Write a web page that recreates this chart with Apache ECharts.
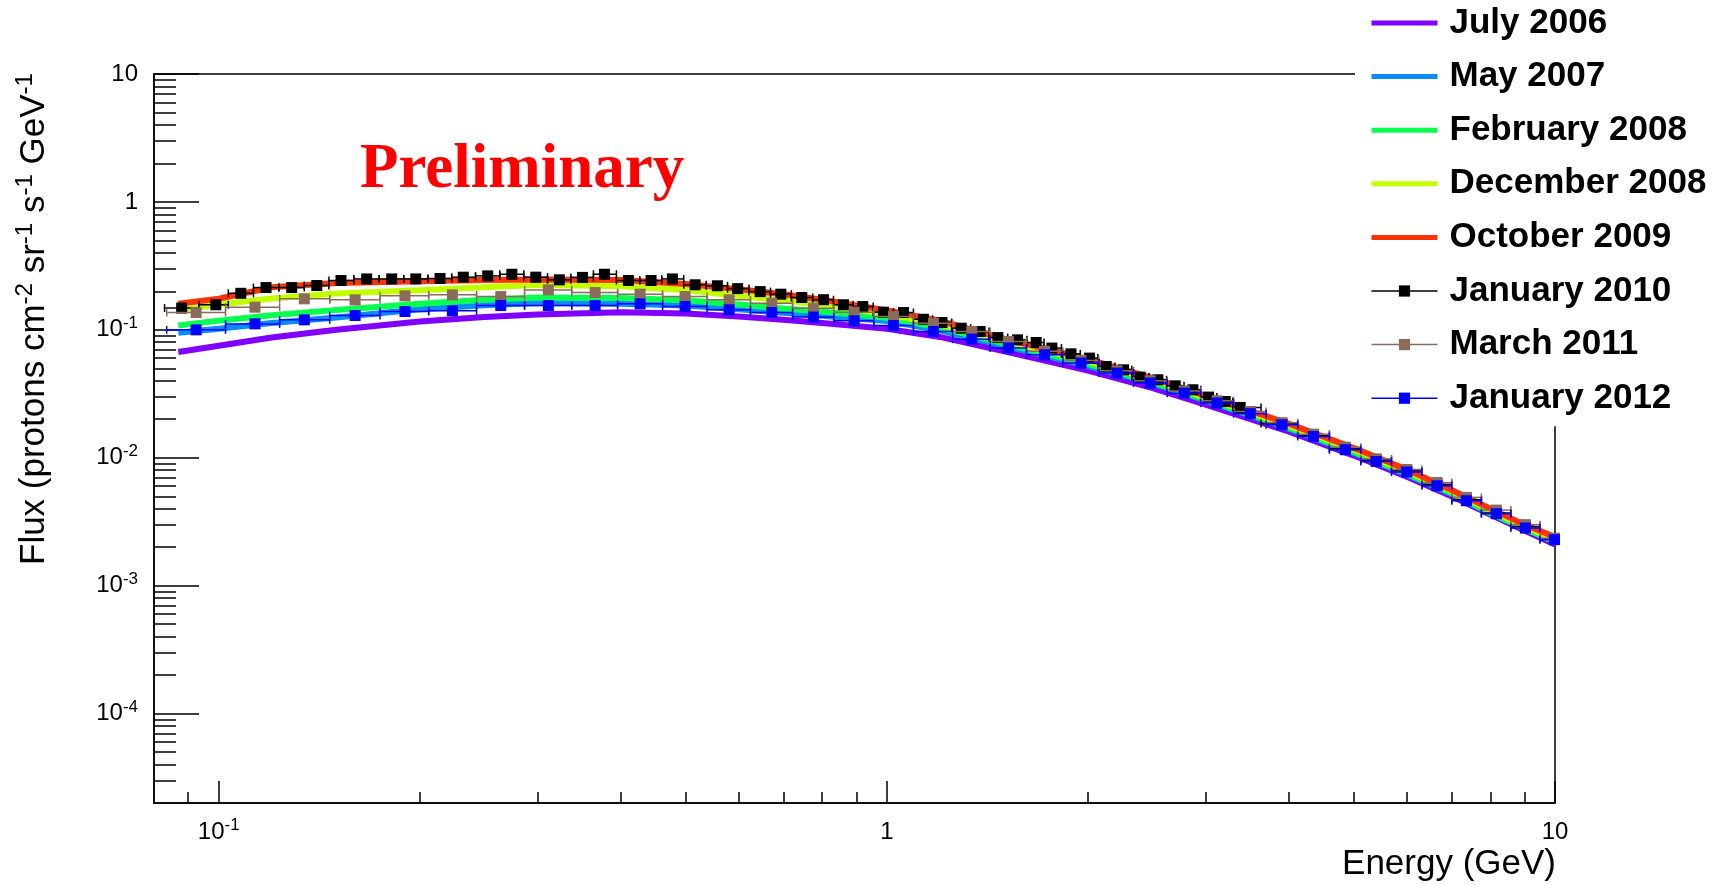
<!DOCTYPE html>
<html>
<head>
<meta charset="utf-8">
<title>Proton flux</title>
<script src="https://cdn.jsdelivr.net/npm/echarts@6/dist/echarts.min.js"></script>
<style>
  html, body { margin: 0; padding: 0; background: #fff; }
  #chart { width: 1723px; height: 885px; }
</style>
</head>
<body>
<div id="chart"></div>
<script>
// ---- Data -------------------------------------------------------------
// Energy grid (GeV) for the smooth yearly spectra
const lineEnergy = [0.087, 0.1, 0.12, 0.15, 0.2, 0.25, 0.3, 0.4, 0.5, 0.6, 0.7, 0.8, 1.0, 1.2, 1.5, 2.0, 2.5, 3.0, 4.0, 5.0, 6.0, 7.0, 8.0, 9.0, 10.0];

const fluxJul2006 = [0.067, 0.075, 0.087, 0.100, 0.116, 0.126, 0.132, 0.137, 0.134, 0.127, 0.120, 0.113, 0.102, 0.088, 0.068, 0.048, 0.035, 0.026, 0.0160, 0.0104, 0.0071, 0.0050, 0.0036, 0.0027, 0.0021];
const fluxMay2007 = [0.095, 0.102, 0.113, 0.125, 0.145, 0.156, 0.162, 0.160, 0.155, 0.145, 0.136, 0.129, 0.117, 0.099, 0.075, 0.052, 0.038, 0.028, 0.0168, 0.0109, 0.0074, 0.0052, 0.0037, 0.0028, 0.0022];
const fluxFeb2008 = [0.108, 0.118, 0.130, 0.143, 0.160, 0.172, 0.179, 0.177, 0.170, 0.158, 0.147, 0.139, 0.124, 0.104, 0.078, 0.054, 0.039, 0.0285, 0.0172, 0.0111, 0.0075, 0.0053, 0.0037, 0.0028, 0.0022];
const fluxDec2008 = [0.143, 0.158, 0.176, 0.192, 0.204, 0.215, 0.224, 0.219, 0.205, 0.184, 0.170, 0.157, 0.133, 0.110, 0.082, 0.057, 0.041, 0.0295, 0.0178, 0.0116, 0.0078, 0.0055, 0.0039, 0.0029, 0.0023];
const fluxOct2009 = [0.160, 0.175, 0.215, 0.232, 0.240, 0.245, 0.248, 0.245, 0.228, 0.208, 0.190, 0.172, 0.142, 0.118, 0.085, 0.059, 0.042, 0.0305, 0.0184, 0.0119, 0.0081, 0.0056, 0.0040, 0.0030, 0.0024];

// January 2010: fine binning up to ~3.4 GeV, coarser above
const jan2010Energy = [0.088, 0.099, 0.1079, 0.1177, 0.1286, 0.1402, 0.1524, 0.1665, 0.1815, 0.1972, 0.2144,
  0.2323, 0.2527, 0.2746, 0.2982, 0.3234, 0.3502, 0.3778, 0.4103, 0.4437, 0.4775, 0.5164, 0.5576, 0.598,
  0.6462, 0.6939, 0.7459, 0.8038, 0.861, 0.9204, 0.9883, 1.059, 1.134, 1.209, 1.292, 1.379, 1.466, 1.569,
  1.673, 1.766, 1.886, 2.011, 2.13, 2.261, 2.394, 2.545, 2.701, 2.871, 3.03, 3.209, 3.379,
  3.902, 4.35, 4.855, 5.4, 6.0, 6.66, 7.37, 8.17, 9.03, 9.98];
const jan2010Flux = [0.148, 0.157, 0.193, 0.214, 0.214, 0.222, 0.243, 0.250, 0.250, 0.250, 0.252,
  0.258, 0.264, 0.272, 0.258, 0.246, 0.257, 0.272, 0.243, 0.243, 0.250, 0.225, 0.221, 0.210,
  0.199, 0.190, 0.179, 0.172, 0.157, 0.152, 0.1375, 0.1365, 0.121, 0.114, 0.103, 0.097, 0.087, 0.0835,
  0.0796, 0.0720, 0.0649, 0.0601, 0.0517, 0.0487, 0.0427, 0.0407, 0.0365, 0.0340, 0.0298, 0.0275, 0.0247,
  0.0185, 0.0150, 0.0118, 0.0096, 0.0079, 0.0062, 0.0047, 0.0037, 0.0029, 0.00232];

// March 2011 and January 2012 share one binning
const binnedEnergy = [0.0925, 0.1133, 0.1343, 0.160, 0.190, 0.2237, 0.2643, 0.3114, 0.3659, 0.4272, 0.4989, 0.5806,
  0.6726, 0.7763, 0.8933, 1.023, 1.174, 1.34, 1.52, 1.722, 1.953, 2.21, 2.478, 2.786, 3.119, 3.499,
  3.902, 4.35, 4.855, 5.4, 6.0, 6.66, 7.37, 8.17, 9.03, 9.98];
const mar2011Flux = [0.1365, 0.1504, 0.1747, 0.1715, 0.1843, 0.1877, 0.182, 0.2053, 0.1956, 0.190, 0.182, 0.1715,
  0.1616, 0.1477, 0.1375, 0.127, 0.1127, 0.097, 0.081, 0.068, 0.0575, 0.0478, 0.0400, 0.0333, 0.0279, 0.0230,
  0.0188, 0.0153, 0.0121, 0.0098, 0.0081, 0.0064, 0.0049, 0.0039, 0.0030, 0.00235];
const jan2012Flux = [0.100, 0.1113, 0.1197, 0.1294, 0.139, 0.141, 0.1548, 0.1548, 0.1548, 0.1596, 0.152, 0.1433,
  0.1365, 0.1258, 0.1176, 0.108, 0.097, 0.0846, 0.072, 0.0638, 0.055, 0.0459, 0.0384, 0.032, 0.02675, 0.0221,
  0.0181, 0.01467, 0.01155, 0.00935, 0.00773, 0.00604, 0.00461, 0.00365, 0.00282, 0.00229];

// Axis ticks
const xMajorTicks = [0.1, 1, 10];
const xMinorTicks = [0.09, 0.2, 0.3, 0.4, 0.5, 0.6, 0.7, 0.8, 0.9, 2, 3, 4, 5, 6, 7, 8, 9];
const yMajorTicks = [1e-4, 1e-3, 1e-2, 0.1, 1, 10];
const yMinorTicks = [3e-5, 4e-5, 5e-5, 6e-5, 7e-5, 8e-5, 9e-5,
  2e-4, 3e-4, 4e-4, 5e-4, 6e-4, 7e-4, 8e-4, 9e-4,
  2e-3, 3e-3, 4e-3, 5e-3, 6e-3, 7e-3, 8e-3, 9e-3,
  0.02, 0.03, 0.04, 0.05, 0.06, 0.07, 0.08, 0.09,
  0.2, 0.3, 0.4, 0.5, 0.6, 0.7, 0.8, 0.9,
  2, 3, 4, 5, 6, 7, 8, 9];

// ---- Helpers ----------------------------------------------------------
const SANS = '"Liberation Sans", Arial, Helvetica, sans-serif';

function pairs(xs, ys) { return xs.map((x, i) => [x, ys[i]]); }

// Horizontal error bars spanning each bin (edges halfway between points in log space)
function binBars(xs, ys) {
  const n = xs.length;
  return xs.map((x, i) => {
    const lo = i > 0 ? Math.sqrt(xs[i - 1] * x) : x * x / Math.sqrt(x * xs[1]);
    const hi = i < n - 1 ? Math.sqrt(x * xs[i + 1]) : x * x / Math.sqrt(xs[n - 2] * x);
    return [lo, hi, ys[i]];
  });
}

function errorBarRenderer(color) {
  return function (params, api) {
    const y = api.value(2);
    const a = api.coord([api.value(0), y]);
    const b = api.coord([api.value(1), y]);
    const st = { stroke: color, lineWidth: 1.5 };
    const cap = 4;
    return {
      type: 'group',
      children: [
        { type: 'line', shape: { x1: a[0], y1: a[1], x2: b[0], y2: b[1] }, style: st },
        { type: 'line', shape: { x1: a[0], y1: a[1] - cap, x2: a[0], y2: a[1] + cap }, style: st },
        { type: 'line', shape: { x1: b[0], y1: b[1] - cap, x2: b[0], y2: b[1] + cap }, style: st }
      ]
    };
  };
}

function powerLabel(v) {
  const e = Math.round(Math.log10(v));
  if (e === 0) return '{b|1}';
  if (e === 1) return '{b|10}';
  return '{b|10}{s|' + e + '}';
}

const tickRich = {
  b: { fontFamily: SANS, fontSize: 24, color: '#000', lineHeight: 30 },
  s: { fontFamily: SANS, fontSize: 17, color: '#000', lineHeight: 30, verticalAlign: 'top' }
};

function thickLine(name, color, flux) {
  return {
    name: name, type: 'line', data: pairs(lineEnergy, flux),
    symbol: 'none', showSymbol: false, z: 2, clip: true,
    itemStyle: { color: color },
    lineStyle: { color: color, width: 6 }
  };
}

function markerSeries(name, color, energy, flux, z) {
  return [
    {
      name: name, type: 'line', data: pairs(energy, flux),
      symbol: 'rect', symbolSize: 11, z: z + 1, clip: true,
      itemStyle: { color: color },
      lineStyle: { color: color, width: 1.5, opacity: 0 }
    },
    {
      name: name, type: 'custom', data: binBars(energy, flux),
      renderItem: errorBarRenderer(color), encode: { x: [0, 1], y: 2 },
      z: z, clip: true, silent: true
    }
  ];
}

const axisBase = {
  type: 'log', logBase: 10,
  splitLine: { show: false }
};

// ---- Chart ------------------------------------------------------------
const chart = echarts.init(document.getElementById('chart'), null, { renderer: 'canvas' });

chart.setOption({
  animation: false,
  backgroundColor: '#fff',
  grid: {
    left: 154, top: 74, right: 168, bottom: 82,
    show: true, borderColor: '#000', borderWidth: 1.5, backgroundColor: 'transparent'
  },
  xAxis: [
    Object.assign({}, axisBase, {
      min: 0.08, max: 10, position: 'bottom',
      axisLine: { show: true, lineStyle: { color: '#000', width: 1.5 } },
      axisTick: { show: true, inside: true, length: 22, customValues: xMajorTicks, lineStyle: { color: '#000', width: 1.5 } },
      axisLabel: { show: true, customValues: xMajorTicks, formatter: powerLabel, rich: tickRich, margin: 14, color: '#000', fontFamily: SANS, fontSize: 24 }
    }),
    Object.assign({}, axisBase, {
      min: 0.08, max: 10, position: 'bottom',
      axisLine: { show: false },
      axisTick: { show: true, inside: true, length: 11, customValues: xMinorTicks, lineStyle: { color: '#000', width: 1.5 } },
      axisLabel: { show: false }
    })
  ],
  yAxis: [
    Object.assign({}, axisBase, {
      min: 2e-5, max: 10, position: 'left',
      axisLine: { show: true, lineStyle: { color: '#000', width: 1.5 } },
      axisTick: { show: true, inside: true, length: 45, customValues: yMajorTicks, lineStyle: { color: '#000', width: 1.5 } },
      axisLabel: { show: true, customValues: yMajorTicks, formatter: powerLabel, rich: tickRich, margin: 16, color: '#000', fontFamily: SANS, fontSize: 24 }
    }),
    Object.assign({}, axisBase, {
      min: 2e-5, max: 10, position: 'left',
      axisLine: { show: false },
      axisTick: { show: true, inside: true, length: 22, customValues: yMinorTicks, lineStyle: { color: '#000', width: 1.5 } },
      axisLabel: { show: false }
    })
  ],
  legend: {
    orient: 'vertical', left: 1355, top: 0,
    padding: [3, 10, 8, 14],
    backgroundColor: '#fff',
    itemWidth: 66, itemHeight: 14, itemGap: 13.6,
    selectedMode: false,
    textStyle: { fontFamily: SANS, fontWeight: 'bold', fontSize: 35, color: '#000', lineHeight: 40, padding: [0, 0, 0, 7] },
    data: [
      { name: 'July 2006', itemStyle: { opacity: 0 }, lineStyle: { width: 5, opacity: 1 } },
      { name: 'May 2007', itemStyle: { opacity: 0 }, lineStyle: { width: 5, opacity: 1 } },
      { name: 'February 2008', itemStyle: { opacity: 0 }, lineStyle: { width: 5, opacity: 1 } },
      { name: 'December 2008', itemStyle: { opacity: 0 }, lineStyle: { width: 5, opacity: 1 } },
      { name: 'October 2009', itemStyle: { opacity: 0 }, lineStyle: { width: 5, opacity: 1 } },
      { name: 'January 2010', itemStyle: { opacity: 1 }, lineStyle: { width: 1.5, opacity: 1 } },
      { name: 'March 2011', itemStyle: { opacity: 1 }, lineStyle: { width: 1.5, opacity: 1 } },
      { name: 'January 2012', itemStyle: { opacity: 1 }, lineStyle: { width: 1.5, opacity: 1 } }
    ]
  },
  graphic: [
    {
      type: 'text', x: 360, y: 171, z: 10,
      style: { text: 'Preliminary', font: 'bold 63px "Liberation Serif", "Times New Roman", serif', fill: '#ff0000', align: 'left', verticalAlign: 'middle' }
    },
    {
      type: 'text', x: 1556, y: 864, z: 10,
      style: { text: 'Energy (GeV)', font: '35px ' + SANS, fill: '#000', align: 'right', verticalAlign: 'middle' }
    },
    {
      type: 'text', x: 34, y: 565, rotation: Math.PI / 2, z: 10,
      style: {
        text: '{b|Flux (protons cm}{s|-2}{b| sr}{s|-1}{b| s}{s|-1}{b| GeV}{s|-1}',
        align: 'left', verticalAlign: 'middle',
        rich: {
          b: { fontFamily: SANS, fontSize: 35, fill: '#000', lineHeight: 42 },
          s: { fontFamily: SANS, fontSize: 24, fill: '#000', lineHeight: 42, verticalAlign: 'top' }
        }
      }
    }
  ],
  series: [
    thickLine('July 2006', '#7f00ff', fluxJul2006),
    thickLine('May 2007', '#0a8cff', fluxMay2007),
    thickLine('February 2008', '#0aff50', fluxFeb2008),
    thickLine('December 2008', '#c3ff00', fluxDec2008),
    thickLine('October 2009', '#ff3300', fluxOct2009)
  ]
    .concat(markerSeries('January 2010', '#000000', jan2010Energy, jan2010Flux, 3))
    .concat(markerSeries('March 2011', '#8b6b5a', binnedEnergy, mar2011Flux, 5))
    .concat(markerSeries('January 2012', '#0000ff', binnedEnergy, jan2012Flux, 7))
});
</script>
</body>
</html>
